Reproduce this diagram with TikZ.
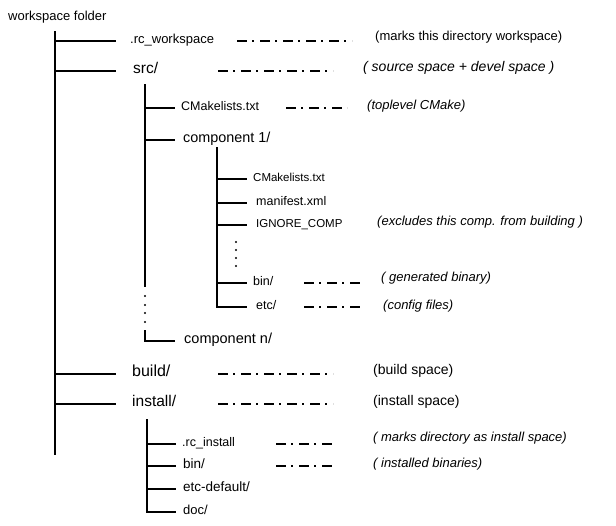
\documentclass[tikz,border=0pt]{standalone}
\usepackage{fontspec}
\setmainfont{Liberation Sans}
\newcommand{\fsz}[1]{\fontsize{#1}{#1}\selectfont}
\tikzstyle{entry}=[anchor=mid west, inner sep=0pt]
\tikzstyle{note}=[anchor=mid west, inner sep=0pt, font=\fsz{13}\itshape]
\tikzstyle{tree}=[line width=1.6pt]
\tikzstyle{remark}=[line width=1.8pt, dash pattern=on 10pt off 5pt on 2pt off 6pt]

\begin{document}
\begin{tikzpicture}[x=1pt, y=-1pt]
    \useasboundingbox (0,0) rectangle (616,525);
    \node[entry, font=\fsz{13}] (wsf) at (8,18) {workspace folder};
    \node[entry, font=\fsz{13}] (rcws) at (130,41) {.rc\_workspace};
    \node[entry, font=\fsz{15.5}] (src) at (133,71) {src/};
    \node[entry, font=\fsz{12.5}] (cmk) at (181,108) {CMakelists.txt};
    \node[entry, font=\fsz{14.4}] (comp1) at (183,140) {component 1/};
    \node[entry, font=\fsz{11.5}] (c1cmk) at (253,179) {CMakelists.txt};
    \node[entry, font=\fsz{12.5}] (c1man) at (256,203) {manifest.xml};
    \node[entry, font=\fsz{11.5}] (c1ign) at (256,225) {IGNORE\_COMP};
    \node[entry, font=\fsz{12.5}] (c1bin) at (253,283) {bin/};
    \node[entry, font=\fsz{12.5}] (c1etc) at (256,307) {etc/};
    \node[entry, font=\fsz{14.5}] (compn) at (184,341) {component n/};
    \node[entry, font=\fsz{16}] (build) at (132,374) {build/};
    \node[entry, font=\fsz{15.5}] (install) at (132,404) {install/};
    \node[entry, font=\fsz{12.5}] (rcinst) at (182,444) {.rc\_install};
    \node[entry, font=\fsz{13.5}] (ibin) at (183,466) {bin/};
    \node[entry, font=\fsz{13.5}] (ietc) at (183,489) {etc-default/};
    \node[entry, font=\fsz{13}] (idoc) at (183,512) {doc/};

    \node[entry, font=\fsz{13}] (rcwsnote) at (375,38) {(marks this directory workspace)};
    \node[note, font=\fsz{14}\itshape] (srcnote) at (363,69) {( source space + devel space )};
    \node[note] (cmknote) at (367,107) {(toplevel CMake)};
    \node[note] (c1ignnote) at (377,223) {(excludes this comp. from building )};
    \node[note] (c1binnote) at (381,279) {( generated binary)};
    \node[note] (c1etcnote) at (383,307) {(config files)};
    \node[entry, font=\fsz{14}] (buildnote) at (373,372) {(build space)};
    \node[entry, font=\fsz{14}] (installnote) at (373,403) {(install space)};
    \node[note] (rcinstnote) at (373,439) {( marks directory as install space)};
    \node[note] (ibinnote) at (373,465) {( installed binaries)};

    \coordinate (t0) at (55,31);
    \coordinate (s0) at (145,84);
    \coordinate (s1) at (145,287);
    \coordinate (s2) at (145,330);
    \coordinate (c0) at (217,147);
    \coordinate (i0) at (147,419);

    \draw[tree] (t0) -- ++(0,424);
    \foreach \n in {rcws,src,build,install}
        \draw[tree] (t0 |- \n.mid west) -- ++(61,0);
    \draw[tree] (s0) -- (s1);
    \foreach \n in {cmk,comp1}
        \draw[tree] (s0 |- \n.mid west) -- ++(30,0);
    \draw[tree] (s2) -- (s2 |- compn.mid west) -- ++(30,0);
    \foreach \y in {296,305,313,322}
        \fill (145,\y) circle[radius=1.2pt];
    \draw[tree] (c0) -- (c0 |- c1etc.mid west) -- ++(30,0);
    \foreach \n in {c1cmk,c1man,c1ign,c1bin}
        \draw[tree] (c0 |- \n.mid west) -- ++(30,0);
    \foreach \y in {242,250,258,266}
        \fill (236,\y) circle[radius=1.2pt];
    \draw[tree] (i0) -- (i0 |- idoc.mid west) -- ++(29,0);
    \foreach \n in {rcinst,ibin,ietc}
        \draw[tree] (i0 |- \n.mid west) -- ++(29,0);

    \draw[remark, shorten <=107pt, shorten >=23pt] (rcws.mid west) -- (rcwsnote.mid west |- rcws.mid west);
    \draw[remark, shorten <=85pt, shorten >=30pt] (src.mid west) -- (srcnote.mid west |- src.mid west);
    \draw[remark, shorten <=105pt, shorten >=20pt] (cmk.mid west) -- (cmknote.mid west |- cmk.mid west);
    \draw[remark, shorten <=51pt, shorten >=18pt] (c1bin.mid west) -- (c1binnote.mid west |- c1bin.mid west);
    \draw[remark, shorten <=48pt, shorten >=20pt] (c1etc.mid west) -- (c1etcnote.mid west |- c1etc.mid west);
    \draw[remark, shorten <=86pt, shorten >=40pt] (build.mid west) -- (buildnote.mid west |- build.mid west);
    \draw[remark, shorten <=86pt, shorten >=40pt] (install.mid west) -- (installnote.mid west |- install.mid west);
    \draw[remark, shorten <=94pt, shorten >=40pt] (rcinst.mid west) -- (rcinstnote.mid west |- rcinst.mid west);
    \draw[remark, shorten <=93pt, shorten >=40pt] (ibin.mid west) -- (ibinnote.mid west |- ibin.mid west);
\end{tikzpicture}
\end{document}
